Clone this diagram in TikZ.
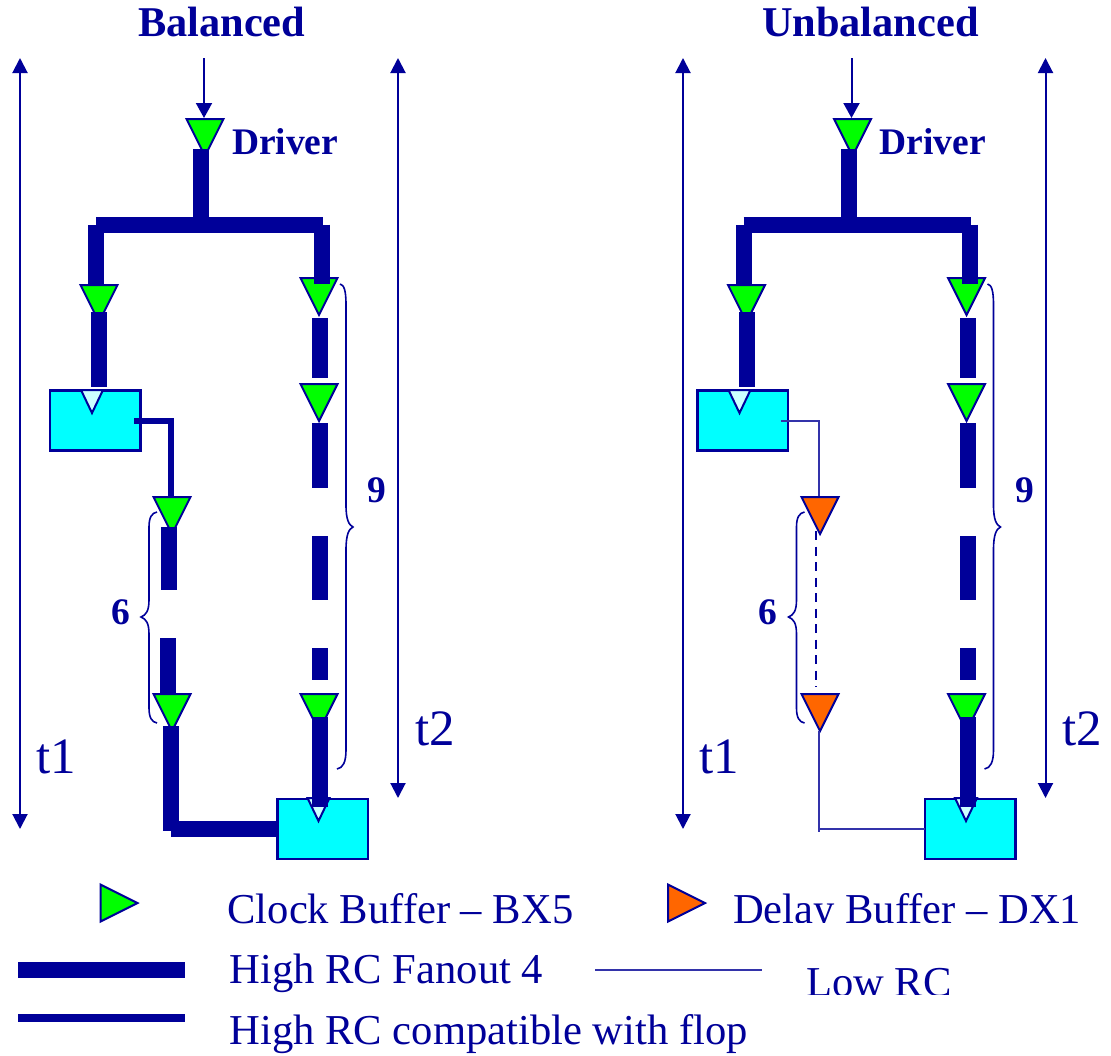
\documentclass[tikz,border=0pt]{standalone}
\usepackage{fontspec}
\setmainfont{Liberation Serif}
\usetikzlibrary{arrows.meta,shapes.geometric}
\definecolor{navy}{HTML}{000099}
\definecolor{gbuf}{HTML}{00FF00}
\definecolor{obuf}{HTML}{FF6600}
\definecolor{flopc}{HTML}{00FFFF}
\definecolor{clkc}{HTML}{CCFFFF}
\definecolor{thinc}{HTML}{3333AA}
\tikzset{
  tribase/.style={draw=navy,line width=2pt,isosceles triangle,isosceles triangle stretches,inner sep=0pt,outer sep=0pt,anchor=apex},
  bufdown/.style={tribase,shape border rotate=270,minimum width=37pt,minimum height=37pt},
  bufright/.style={tribase,shape border rotate=0,minimum width=37pt,minimum height=37pt},
  clkmark/.style={tribase,shape border rotate=270,minimum width=22pt,minimum height=23pt,fill=clkc},
  flopbox/.style={draw=navy,line width=2.2pt,fill=flopc,minimum width=90.5pt,minimum height=60pt,inner sep=0pt,outer sep=0pt,anchor=north west},
  wirefat/.style={navy,line width=16pt,line cap=butt},
  wiremid/.style={navy,line width=6pt,line cap=butt},
  wirethin/.style={thinc,line width=1.6pt,line cap=butt},
  span/.style={navy,line width=2pt,{Triangle[length=15pt,width=15pt]}-{Triangle[length=15pt,width=15pt]}},
  feed/.style={navy,line width=2pt,-{Triangle[length=15pt,width=16pt]}},
  bracket/.style={navy,line width=1.6pt},
  lab/.style={navy,inner sep=0pt,outer sep=0pt,anchor=base west},
  hugebold/.style={lab,font=\fontsize{42.4}{42}\selectfont\bfseries},
  midbold/.style={lab,font=\fontsize{37.5}{37}\selectfont\bfseries},
  tlabel/.style={lab,font=\fontsize{51}{51}\selectfont},
  leg/.style={lab,font=\fontsize{42.6}{42}\selectfont},
}
% everything common to the two trees; #1 = name prefix
\newcommand{\commontree}[1]{%
  \node[bufdown,fill=gbuf] (#1drv) at (205,156) {};
  \node[bufdown,fill=gbuf] (#1bl) at (99,322) {};
  \node[bufdown,fill=gbuf] (#1br) at (319,315) {};
  \node[bufdown,fill=gbuf] (#1bm) at (319,421) {};
  \node[bufdown,fill=gbuf] (#1bb) at (319,731) {};
  \node[flopbox] (#1fa) at (50,390.5) {};
  \node[clkmark] (#1ca) at (92,413) {};
  \node[flopbox] (#1fb) at (277.5,799) {};
  \node[clkmark] (#1cb) at (318.5,821) {};
  \coordinate (#1in) at (204,58);
  \coordinate (#1a1) at (201,149);
  \coordinate (#1a2) at (201,224.5);
  \coordinate (#1hl) at (96,224.5);
  \coordinate (#1hr) at (323,224.5);
  \coordinate (#1vl) at (96,285);
  \coordinate (#1vr) at (322,284);
  \coordinate (#1s1) at (99,312);
  \coordinate (#1s2) at (99,387);
  \coordinate (#1d1) at (320,318);
  \coordinate (#1d2) at (320,378);
  \coordinate (#1d3) at (320,423);
  \coordinate (#1d4) at (320,488);
  \coordinate (#1d5) at (320,536);
  \coordinate (#1d6) at (320,600);
  \coordinate (#1d7) at (320,648);
  \coordinate (#1d8) at (320,680);
  \coordinate (#1d9) at (320,717);
  \coordinate (#1d10) at (320,807);
  \draw[feed] (#1in) -- (204,118);
  \draw[wirefat] (#1a1) -- (#1a2);
  \draw[wirefat] (#1hl) -- (#1hr);
  \draw[wirefat] (#1hl) -- (#1vl);
  \draw[wirefat] (322,224.5) -- (#1vr);
  \draw[wirefat] (#1s1) -- (#1s2);
  \draw[wirefat] (#1d1) -- (#1d2);
  \draw[wirefat] (#1d3) -- (#1d4);
  \draw[wirefat] (#1d5) -- (#1d6);
  \draw[wirefat] (#1d7) -- (#1d8);
  \draw[wirefat] (#1d9) -- (#1d10);
  % braces
  \draw[bracket] (340,284) .. controls (344,285) and (346,290) .. (346,305) -- (346,505)
     .. controls (346,520) and (349,525) .. (353,527) .. controls (349,529) and (346,534) .. (346,550)
     -- (346,750) .. controls (346,762) and (343,768) .. (337,769);
  \draw[bracket] (157,512) .. controls (152,513) and (149,517) .. (149,527) -- (149,600)
     .. controls (149,611) and (146,615) .. (141,617) .. controls (146,619) and (149,623) .. (149,634)
     -- (149,708) .. controls (149,718) and (152,722) .. (157,723);
  \node[midbold] (#1drvt) at (232,154) {Driver};
  \node[midbold] (#1nine) at (367.5,502) {9};
  \node[midbold] (#1six) at (111,624) {6};
  \node[tlabel] (#1tb) at (415,745) {t2};
  \coordinate (#1t2a) at (398,58);
  \coordinate (#1t2b) at (398,798);
  \draw[span] (#1t2a) -- (#1t2b);
}
\begin{document}
\begin{tikzpicture}[x=1pt,y=-1pt]
\useasboundingbox (0,0) rectangle (1111,1055);
\node[hugebold] (tbal) at (138,36) {Balanced};
\node[hugebold] (tunb) at (762,36) {Unbalanced};
\commontree{L}
\begin{scope}[xshift=647.5pt]
  \commontree{R}
\end{scope}
% t1 spans
\coordinate (Lt1a) at (20,58);
\coordinate (Lt1b) at (20,829);
\coordinate (Rt1a) at (683,58);
\coordinate (Rt1b) at (683,829);
\draw[span] (Lt1a) -- (Lt1b);
\draw[span] (Rt1a) -- (Rt1b);
\node[tlabel] (Lta) at (36,773) {t1};
\node[tlabel] (Rta) at (699,773) {t1};
% left, lower path
\node[bufdown,fill=gbuf] (lb1) at (172,534) {};
\node[bufdown,fill=gbuf] (lb2) at (172,731) {};
\coordinate (lo1) at (134,421);
\coordinate (lo2) at (171,421);
\coordinate (lo3) at (171,496);
\draw[wiremid] (lo1) -- (lo2);
\draw[wiremid] (lo2 |- 0,418) -- (lo3);
\coordinate (lw1) at (168.5,527);
\coordinate (lw2) at (168.5,590);
\coordinate (lw3) at (168,638);
\coordinate (lw4) at (168,693);
\draw[wirefat] (lw1) -- (lw2);
\draw[wirefat] (lw3) -- (lw4);
\coordinate (lw5) at (171,726);
\coordinate (lw6) at (171,831);
\coordinate (lw7) at (171,829);
\draw[wirefat] (lw5) -- (lw6);
\draw[wirefat] (lw7) -- (Lfb.west |- 0,829);
% right, lower path
\node[bufdown,fill=obuf] (rb1) at (820,534) {};
\node[bufdown,fill=obuf] (rb2) at (820,731) {};
\coordinate (ro1) at (781,421);
\coordinate (ro2) at (819,421);
\coordinate (ro3) at (819,496);
\draw[wirethin] (ro1) -- (ro2) -- (ro3);
\coordinate (rd1) at (816,531);
\coordinate (rd2) at (816,687);
\draw[navy,line width=2pt,dash pattern=on 9pt off 6.5pt] (rd1) -- (rd2);
\coordinate (rl1) at (819,731);
\coordinate (rl2) at (819,832);
\coordinate (rl3) at (819,829);
\draw[wirethin] (rl1) -- (rl2);
\draw[wirethin] (rl3) -- (Rfb.west |- 0,829);
% legend
\node[bufright,fill=gbuf] (kg) at (137.5,903) {};
\node[bufright,fill=obuf] (ko) at (705,903) {};
\node[leg] (kclk) at (227.5,923) {Clock Buffer – BX5};
\begin{scope}
  \clip (725,880) rectangle (1111,922);
  \node[leg] (kdel) at (733,923) {Delay Buffer – DX1};
\end{scope}
\coordinate (kf1) at (18,970);
\coordinate (kf2) at (185,970);
\draw[wirefat] (kf1) -- (kf2);
\node[leg] (khi) at (229.5,983) {High RC Fanout 4};
\coordinate (kt1) at (595,970);
\coordinate (kt2) at (762,970);
\draw[wirethin] (kt1) -- (kt2);
\begin{scope}
  \clip (800,955) rectangle (960,994);
  \node[leg] (klow) at (806,996) {Low RC};
\end{scope}
\coordinate (km1) at (18,1018);
\coordinate (km2) at (185,1018);
\draw[navy,line width=8pt,line cap=butt] (km1) -- (km2);
\node[leg] (kcom) at (229.5,1044) {High RC compatible with flop};
\end{tikzpicture}
\end{document}
